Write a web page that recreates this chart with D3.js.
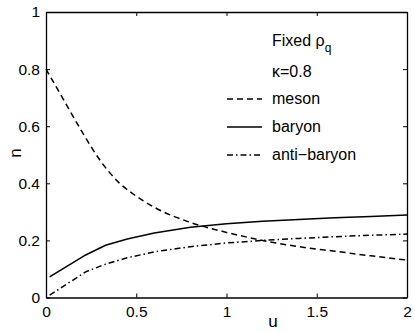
<!DOCTYPE html>
<html><head><meta charset="utf-8">
<script src="https://cdn.jsdelivr.net/npm/d3@7"></script>
<style>
body{margin:0;background:#fff;}
text{font-family:"Liberation Sans",Arial,Helvetica,sans-serif;fill:#000;}
</style></head>
<body><svg id="c" width="415" height="333"></svg>
<script>
const uMeson  = [0, 0.1, 0.2, 0.3, 0.4, 0.5, 0.6, 0.8, 1.0, 1.2, 1.4, 1.6, 1.8, 2.0];
const meson   = [0.80, 0.69, 0.58, 0.48, 0.405, 0.355, 0.316, 0.263, 0.228, 0.200, 0.178, 0.162, 0.146, 0.131];
const uBaryon = [0.02, 0.22, 0.33, 0.45, 0.6, 0.8, 1.0, 1.2, 1.4, 1.6, 1.8, 2.0];
const baryon  = [0.072, 0.149, 0.183, 0.205, 0.226, 0.246, 0.258, 0.267, 0.273, 0.279, 0.284, 0.289];
const anti    = [0.008, 0.090, 0.117, 0.139, 0.160, 0.178, 0.191, 0.200, 0.207, 0.213, 0.218, 0.222];
const xTicks  = [0, 0.5, 1, 1.5, 2];
const xTickLabels = ["0", "0.5", "1", "1.5", "2"];
const yTicks  = [0, 0.2, 0.4, 0.6, 0.8, 1];
const yTickLabels = ["0", "0.2", "0.4", "0.6", "0.8", "1"];
const seriesNames = ["meson", "baryon", "anti\u2212baryon"];

const L = 46, R = 407, T = 12, B = 297.5;
const svg = d3.select("#c");
const x = d3.scaleLinear().domain([0, 2]).range([L, R]);
const y = d3.scaleLinear().domain([0, 1]).range([B, T]);

const fs = 15.5, lfs = 16, tl = 4;
const ax = (g, axis) => { g.call(axis); g.select(".domain").attr("stroke","#000").attr("stroke-width",1.3); g.selectAll(".tick line").attr("stroke","#000"); };
svg.append("g").attr("transform",`translate(0,${B})`)
  .call(g => ax(g, d3.axisBottom(x).tickValues(xTicks).tickSizeInner(-tl).tickSizeOuter(0).tickPadding(8).tickFormat((d,i)=>xTickLabels[i])))
  .selectAll("text").attr("font-size",fs).attr("font-family","Liberation Sans, Arial, sans-serif");
svg.append("g").attr("transform",`translate(0,${T})`)
  .call(g => ax(g, d3.axisTop(x).tickValues(xTicks).tickSizeInner(-tl).tickSizeOuter(0).tickFormat("")));
svg.append("g").attr("transform",`translate(${L},0)`)
  .call(g => ax(g, d3.axisLeft(y).tickValues(yTicks).tickSizeInner(-tl).tickSizeOuter(0).tickPadding(6).tickFormat((d,i)=>yTickLabels[i])))
  .selectAll("text").attr("font-size",fs).attr("font-family","Liberation Sans, Arial, sans-serif");
svg.append("g").attr("transform",`translate(${R},0)`)
  .call(g => ax(g, d3.axisRight(y).tickValues(yTicks).tickSizeInner(-tl).tickSizeOuter(0).tickFormat("")));

const styles = [
  {u: uMeson, data: meson, dash: "6,4", curve: d3.curveMonotoneX},
  {u: uBaryon, data: baryon, dash: null, curve: d3.curveLinear},
  {u: uBaryon, data: anti, dash: "6,3,1.5,3", curve: d3.curveLinear}
];
styles.forEach(s => {
  const line = d3.line().x((d,i)=>x(s.u[i])).y(d=>y(d)).curve(s.curve);
  svg.append("path").datum(s.data).attr("d", line).attr("fill","none")
    .attr("stroke","#000").attr("stroke-width",1.5)
    .attr("stroke-dasharray", s.dash);
});

// legend
const lx1 = 227, lx2 = 262, tx = 272;
const ly = [99, 127, 155];
styles.forEach((s,i) => {
  svg.append("line").attr("x1",lx1).attr("x2",lx2).attr("y1",ly[i]).attr("y2",ly[i])
    .attr("stroke","#000").attr("stroke-width",1.5).attr("stroke-dasharray", s.dash);
  svg.append("text").attr("x",tx).attr("y",ly[i]+5).attr("font-size",lfs).text(seriesNames[i]);
});
const t1 = svg.append("text").attr("x",tx).attr("y",46).attr("font-size",lfs);
t1.append("tspan").text("Fixed \u03c1");
t1.append("tspan").attr("font-size",12).attr("dy",6).text("q");
svg.append("text").attr("x",tx).attr("y",77).attr("font-size",lfs).text("\u03ba=0.8");

// axis labels
svg.append("text").attr("x",273).attr("y",327).attr("font-size",lfs+1).attr("text-anchor","middle").text("u");
svg.append("text").attr("transform","translate(21,153) rotate(-90)").attr("font-size",lfs+1).attr("text-anchor","middle").text("n");
</script></body></html>
